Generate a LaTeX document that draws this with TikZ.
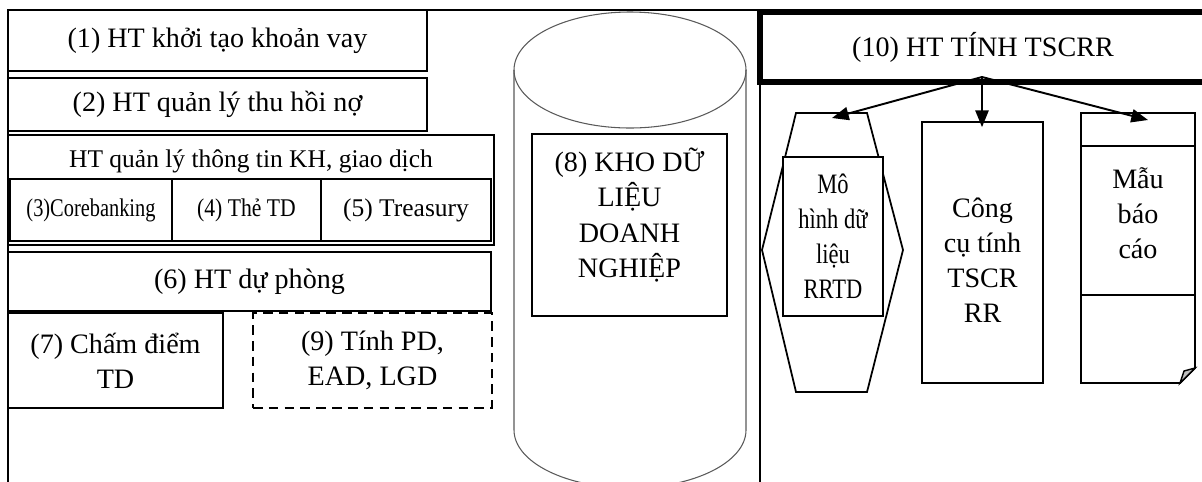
\documentclass[tikz,border=0pt]{standalone}
\usepackage{fontspec}
\setmainfont{Liberation Serif}
\usepackage{graphicx}
\usetikzlibrary{arrows.meta, calc}

\newcommand{\squeeze}[2][0.8]{\scalebox{#1}[1]{#2}}

\tikzset{
    sysbox/.style={
        rectangle, draw, line width=1pt, inner sep=0pt,
        font=\fontsize{16}{20}\selectfont, align=center
    },
    cellsize/.style 2 args={minimum width=#1*0.02cm, minimum height=#2*0.02cm},
    subbox/.style={sysbox, font=\fontsize{14.5}{17}\selectfont},
    dashbox/.style={sysbox, dash pattern=on 5.5pt off 3.5pt},
    thickbox/.style={sysbox, line width=3.4pt},
    boxtext/.style={font=\fontsize{16}{20}\selectfont, align=center, inner sep=0pt},
    panelline/.style={line width=1pt},
    dbline/.style={draw=black!65, line width=0.6pt},
    arrow/.style={-{Triangle[length=9.5pt,width=7.5pt]}, line width=1.1pt},
    anno/.style={font=\fontsize{14.5}{17}\selectfont}
}

\begin{document}
\begin{tikzpicture}[x=0.02cm, y=-0.02cm]
    \useasboundingbox (0,0) rectangle (1202,481);
    \clip (0,0) rectangle (1202,481);

    % Outer frame
    \draw[panelline] (8,490) -- (8,10) -- (1210,10);
    \draw[panelline] (760,82) -- (760,490);

    % Source systems
    \node[sysbox, cellsize={419}{61}] (khoitao) at (217.5,40.5) {(1) HT khởi tạo khoản vay};
    \node[sysbox, cellsize={419}{53}] (thuhoi) at (217.5,104.5) {(2) HT quản lý thu hồi nợ};
    \node[sysbox, cellsize={486}{110}] (qltt) at (251,190) {};
    \node[anno] (qltt-title) at (251,161) {HT quản lý thông tin KH, giao dịch};
    \node[subbox, cellsize={162}{62}] (corebank) at (91,210) {\squeeze{(3)Corebanking}};
    \node[subbox, cellsize={149}{62}] (thetd) at (246.5,210) {\squeeze[0.85]{(4) Thẻ TD}};
    \node[subbox, cellsize={170}{62}] (treasury) at (406,210) {(5) Treasury};
    \node[sysbox, cellsize={483}{59}] (duphong) at (249.5,281.5) {(6) HT dự phòng};
    \node[sysbox, cellsize={215}{95}] (chamdiem) at (115.5,360.5) {(7) Chấm điểm\\TD};
    \node[dashbox, cellsize={239}{95}] (tinhpd) at (372.5,360.5) {(9) Tính PD,\\EAD, LGD};

    % Data warehouse
    \draw[dbline] (630,70) ellipse [x radius=116, y radius=58];
    \draw[dbline] (514,70) -- (514,430)
        arc[start angle=180, end angle=0, x radius=116, y radius=58] -- (746,70);
    \node[sysbox, cellsize={195}{182}] (kho) at (629.5,225) {};
    \node[boxtext] (kho-text) at ($(kho.center)+(0,-10)$) {(8) KHO DỮ\\LIỆU\\DOANH\\NGHIỆP};

    % TSCRR system
    \node[thickbox, cellsize={446}{70}] (tinh) at (983,47) {(10) HT TÍNH TSCRR};
    \coordinate (tinh-apex) at (982,77);

    \draw[line width=1pt] (796,113) -- (867,113) -- (903,250) -- (867,392)
        -- (796,392) -- (762,250) -- cycle;
    \coordinate (mohinh-top) at (832,118);
    \node[sysbox, fill=white, cellsize={100}{159}] (mohinh) at (833,236.5)
        {\squeeze{Mô}\\\squeeze{hình dữ}\\\squeeze{liệu}\\\squeeze{RRTD}};

    \node[sysbox, cellsize={121}{261}] (congcu) at (982.5,252.5) {};
    \node[boxtext] (congcu-text) at ($(congcu.center)+(0,8)$) {Công\\cụ tính\\TSCR\\RR};

    \draw[line width=1pt] (1081,113) -- (1195,113) -- (1195,368) -- (1180,383)
        -- (1081,383) -- cycle;
    \draw[line width=1pt] (1081,146) -- (1195,146) (1081,295) -- (1195,295);
    \filldraw[fill=black!25, line width=0.8pt] (1195,368) -- (1180,383) -- (1184,371) -- cycle;
    \coordinate (mau-top) at (1148,120);
    \node[boxtext] (mau) at (1138,213) {Mẫu\\báo\\cáo};

    \draw[arrow] (tinh-apex) -- (mohinh-top);
    \draw[arrow] (tinh-apex) -- ($(congcu.north)+(-0.5,6)$);
    \draw[arrow] (tinh-apex) -- (mau-top);

\end{tikzpicture}
\end{document}
